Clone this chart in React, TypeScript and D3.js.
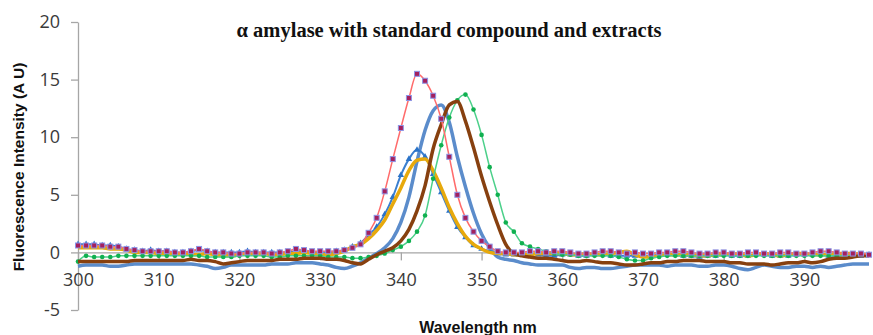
import React, { useEffect, useRef } from 'react';
import * as d3 from 'd3';

// wavelength grid, 1 nm steps
const wavelengths = d3.range(300, 399);

const redSquares = [
  0.6, 0.6, 0.6, 0.6, 0.5, 0.5, 0.3, 0.2, 0.1, 0.1,
  0.1, 0.1, 0.0, 0.0, 0.1, 0.3, 0.1, 0.0, 0.0, -0.1,
  -0.1, 0.0, 0.0, 0.0, -0.1, 0.0, 0.1, 0.3, 0.2, 0.1,
  0.1, 0.1, 0.1, 0.2, 0.4, 0.7, 1.7, 3.0, 5.3, 8.1,
  10.8, 13.4, 15.5, 14.9, 13.6, 11.6, 8.3, 5.0, 3.0, 1.8,
  1.0, 0.5, 0.1, 0.0, 0.0, 0.0, 0.1, 0.1, 0.0, 0.1,
  0.1, 0.0, -0.1, -0.1, 0.0, 0.1, 0.1, 0.0, -0.1, 0.0,
  -0.1, -0.1, 0.0, 0.0, 0.1, 0.1, 0.0, -0.1, -0.1, 0.0,
  0.0, -0.1, -0.1, 0.0, 0.0, -0.1, -0.1, 0.0, 0.0, -0.1,
  -0.1, 0.0, 0.1, 0.1, 0.0, -0.1, -0.1, -0.1, -0.2,
];

const steelBlue = [
  -1.2, -1.1, -1.1, -1.1, -1.2, -1.2, -1.1, -1.0, -1.0, -1.0,
  -1.0, -1.0, -1.0, -1.0, -1.0, -1.1, -1.2, -1.4, -1.3, -1.1,
  -1.1, -1.1, -1.1, -1.1, -1.0, -1.0, -1.0, -0.9, -0.9, -0.9,
  -1.0, -1.1, -1.3, -1.4, -1.2, -0.9, -0.5, -0.1, 0.4, 1.2,
  2.6, 4.8, 7.9, 10.6, 12.3, 12.8, 11.3, 8.3, 5.7, 3.4,
  1.6, 0.4, -0.4, -0.6, -0.7, -0.9, -1.0, -1.1, -1.1, -1.1,
  -1.1, -1.3, -1.4, -1.3, -1.3, -1.4, -1.4, -1.3, -1.2, -1.1,
  -1.1, -1.1, -1.1, -1.2, -1.1, -1.1, -1.1, -1.2, -1.2, -1.1,
  -1.1, -1.2, -1.4, -1.5, -1.3, -1.1, -1.2, -1.3, -1.3, -1.2,
  -1.2, -1.3, -1.2, -1.3, -1.2, -1.1, -1.0, -1.0, -1.0,
];

const blueTriangles = [
  0.7, 0.7, 0.7, 0.6, 0.6, 0.5, 0.3, 0.2, 0.1, 0.2,
  0.1, 0.1, 0.0, 0.0, 0.1, 0.2, 0.1, 0.0, 0.0, 0.0,
  0.0, 0.1, 0.0, 0.0, 0.0, 0.0, 0.0, 0.1, 0.1, 0.0,
  -0.1, 0.0, 0.1, 0.2, 0.5, 0.8, 1.5, 2.2, 3.3, 4.8,
  6.7, 8.1, 8.9, 8.3, 6.8, 5.2, 3.6, 2.2, 1.3, 0.6,
  0.3, 0.1, -0.1, -0.2, -0.2, -0.2, -0.1, -0.2, -0.3, -0.3,
  -0.2, -0.2, -0.3, -0.3, -0.2, -0.2, -0.3, -0.3, -0.3, -0.3,
  -0.3, -0.3, -0.2, -0.2, -0.2, -0.3, -0.3, -0.4, -0.3, -0.3,
  -0.2, -0.3, -0.3, -0.3, -0.2, -0.2, -0.3, -0.3, -0.3, -0.2,
  -0.2, -0.2, -0.2, -0.3, -0.3, -0.2, -0.2, -0.3, -0.2,
];

const yellow = [
  0.4, 0.4, 0.4, 0.4, 0.3, 0.3, 0.2, 0.0, 0.0, 0.0,
  -0.1, -0.1, -0.1, -0.1, -0.2, -0.2, -0.1, -0.2, -0.3, -0.3,
  -0.2, -0.1, -0.1, -0.1, -0.2, -0.2, -0.1, -0.1, 0.0, -0.1,
  -0.2, -0.2, -0.1, 0.1, 0.5, 0.7, 1.2, 1.9, 2.8, 4.2,
  5.6, 7.1, 8.0, 8.1, 7.1, 5.6, 3.9, 2.5, 1.4, 0.7,
  0.3, 0.0, -0.1, -0.1, -0.2, -0.2, -0.2, -0.1, -0.1, -0.1,
  -0.1, -0.2, -0.2, -0.1, -0.2, -0.2, -0.1, 0.0, 0.1, -0.2,
  -0.4, -0.4, -0.3, -0.2, -0.2, -0.2, -0.2, -0.3, -0.3, -0.2,
  -0.2, -0.1, -0.2, -0.3, -0.2, -0.1, -0.2, -0.3, -0.2, -0.1,
  -0.1, -0.2, -0.2, -0.2, -0.1, -0.1, -0.1, -0.2, -0.3,
];

const brown = [
  -0.8, -0.8, -0.8, -0.8, -0.8, -0.8, -0.8, -0.7, -0.7, -0.7,
  -0.7, -0.7, -0.7, -0.7, -0.6, -0.7, -0.7, -0.8, -1.0, -0.9,
  -0.8, -0.7, -0.7, -0.7, -0.7, -0.6, -0.6, -0.6, -0.5, -0.5,
  -0.5, -0.6, -0.6, -0.7, -0.9, -1.0, -0.6, -0.2, 0.1, 0.4,
  1.0, 2.0, 3.6, 5.8, 9.0, 11.1, 12.8, 13.1, 11.4, 9.1,
  6.6, 4.4, 2.4, 0.7, -0.1, -0.3, -0.4, -0.5, -0.5, -0.6,
  -0.7, -0.8, -0.8, -0.7, -0.8, -0.9, -0.9, -1.0, -1.1, -1.1,
  -1.0, -0.9, -0.9, -0.8, -0.8, -0.7, -0.7, -0.7, -0.8, -0.8,
  -0.8, -0.9, -0.9, -1.0, -1.0, -1.0, -1.1, -1.0, -0.9, -0.9,
  -0.8, -0.9, -0.8, -0.6, -0.5, -0.5, -0.4, -0.3, -0.3,
];

const greenDots = [
  -0.8, -0.3, -0.4, -0.4, -0.4, -0.3, -0.3, -0.3, -0.3, -0.3,
  -0.3, -0.3, -0.3, -0.3, -0.3, -0.3, -0.4, -0.4, -0.4, -0.4,
  -0.3, -0.3, -0.3, -0.3, -0.4, -0.4, -0.3, -0.3, -0.3, -0.3,
  -0.3, -0.4, -0.4, -0.4, -0.5, -0.5, -0.4, -0.3, -0.1, 0.2,
  0.5, 1.0, 1.8, 3.2, 6.4, 9.3, 11.7, 13.2, 13.7, 12.4,
  10.2, 7.4, 5.0, 2.6, 1.8, 0.8, 0.5, 0.3, 0.1, -0.1,
  -0.2, -0.2, -0.3, -0.3, -0.3, -0.3, -0.3, -0.4, -0.6, -0.7,
  -0.7, -0.5, -0.4, -0.3, -0.3, -0.3, -0.3, -0.3, -0.3, -0.3,
  -0.3, -0.3, -0.3, -0.3, -0.3, -0.3, -0.3, -0.3, -0.3, -0.3,
  -0.3, -0.3, -0.3, -0.3, -0.3, -0.3, -0.3, -0.2, -0.2,
];

const yTicks = [-5, 0, 5, 10, 15, 20];
const xTicks = [300, 310, 320, 330, 340, 350, 360, 370, 380, 390];

export default function App() {
  const svgRef = useRef<SVGSVGElement>(null);
  const width = 873;
  const height = 335;

  useEffect(() => {
    if (!svgRef.current) return;
    const svg = d3.select(svgRef.current);
    svg.selectAll("*").remove();

    const axisColor = "#a6a6a6";
    const labelFont = "'Open Sans', 'Liberation Sans', sans-serif";

    const x = d3.scaleLinear().domain([300, 398]).range([78, 869]);
    const y = d3.scaleLinear().domain([-5, 20]).range([310, 22]);

    // y axis (plain hyphen for negatives, as in the original)
    const yAxis = svg.append("g").attr("transform", `translate(${x(300)},0)`)
      .call(d3.axisLeft(y).tickValues(yTicks).tickSize(7).tickPadding(11).tickSizeOuter(0).tickFormat(d => String(d)));
    yAxis.select(".domain").attr("stroke", axisColor).attr("stroke-width", 1.3);
    yAxis.selectAll(".tick line").attr("stroke", axisColor).attr("stroke-width", 1.3);
    yAxis.selectAll(".tick text").attr("fill", "#3a3a3a").style("font-family", labelFont).style("font-size", "18px");

    // x axis sits at zero
    const xAxis = svg.append("g").attr("transform", `translate(0,${y(0)})`)
      .call(d3.axisBottom(x).tickValues(xTicks).tickSize(8).tickPadding(13).tickSizeOuter(0).tickFormat(d => String(d)));
    xAxis.select(".domain").attr("stroke", axisColor).attr("stroke-width", 1.3);
    xAxis.selectAll(".tick line").attr("stroke", axisColor).attr("stroke-width", 1.3);
    xAxis.selectAll(".tick text").attr("fill", "#3a3a3a").style("font-family", labelFont).style("font-size", "18px");

    const series = [
      { name: "steel", values: steelBlue, stroke: "#5b8ccb", width: 3.5, marker: "none", mfill: "" },
      { name: "tri", values: blueTriangles, stroke: "#3a7fd0", width: 2, marker: "triangle", mfill: "#2a73c8" },
      { name: "yellow", values: yellow, stroke: "#e7a90c", width: 3.5, marker: "none", mfill: "" },
      { name: "green", values: greenDots, stroke: "#4cd08a", width: 1.5, marker: "circle", mfill: "#10b050" },
      { name: "brown", values: brown, stroke: "#87400f", width: 3.5, marker: "none", mfill: "" },
      { name: "red", values: redSquares, stroke: "#ff6b6b", width: 1.5, marker: "square", mfill: "#a3205e" },
    ];

    const line = d3.line<number>().x((_, i) => x(wavelengths[i])).y(d => y(d)).curve(d3.curveMonotoneX);

    series.forEach(s => {
      const g = svg.append("g");
      g.append("path").datum(s.values).attr("fill", "none").attr("stroke", s.stroke)
        .attr("stroke-width", s.width).attr("stroke-linejoin", "round").attr("d", line);
      if (s.marker === "square") {
        g.selectAll("rect").data(s.values).enter().append("rect")
          .attr("x", (_, i) => x(wavelengths[i]) - 2.5).attr("y", d => y(d) - 2.5)
          .attr("width", 5).attr("height", 5).attr("fill", s.mfill).attr("stroke", "#8d95e6").attr("stroke-width", 1);
      } else if (s.marker === "circle") {
        g.selectAll("circle").data(s.values).enter().append("circle")
          .attr("cx", (_, i) => x(wavelengths[i])).attr("cy", d => y(d)).attr("r", 2.3).attr("fill", s.mfill);
      } else if (s.marker === "triangle") {
        const tri = d3.symbol().type(d3.symbolTriangle).size(18);
        g.selectAll("path.m").data(s.values).enter().append("path").attr("class", "m")
          .attr("transform", (d, i) => `translate(${x(wavelengths[i])},${y(d)})`)
          .attr("d", tri).attr("fill", s.mfill);
      }
    });

    // titles
    svg.append("text").attr("x", 449).attr("y", 37).attr("text-anchor", "middle")
      .style("font-family", "'Liberation Serif', 'Times New Roman', serif").style("font-weight", "bold")
      .style("font-size", "20.5px").attr("fill", "#111").text("α amylase with standard compound and extracts");

    svg.append("text").attr("transform", `translate(24,167) rotate(-90)`).attr("text-anchor", "middle")
      .style("font-family", "'Liberation Sans', Arial, sans-serif").style("font-weight", "bold")
      .style("font-size", "15.5px").attr("fill", "#111").text("Fluorescence Intensity (A U)");

    svg.append("text").attr("x", 478).attr("y", 333).attr("text-anchor", "middle")
      .style("font-family", "'Liberation Sans', Arial, sans-serif").style("font-weight", "bold")
      .style("font-size", "16px").attr("fill", "#111").text("Wavelength nm");
  }, []);

  return (
    <svg ref={svgRef} width={width} height={height} viewBox={`0 0 ${width} ${height}`}
      style={{ position: "absolute", left: 0, top: 0, background: "#fff" }} />
  );
}
